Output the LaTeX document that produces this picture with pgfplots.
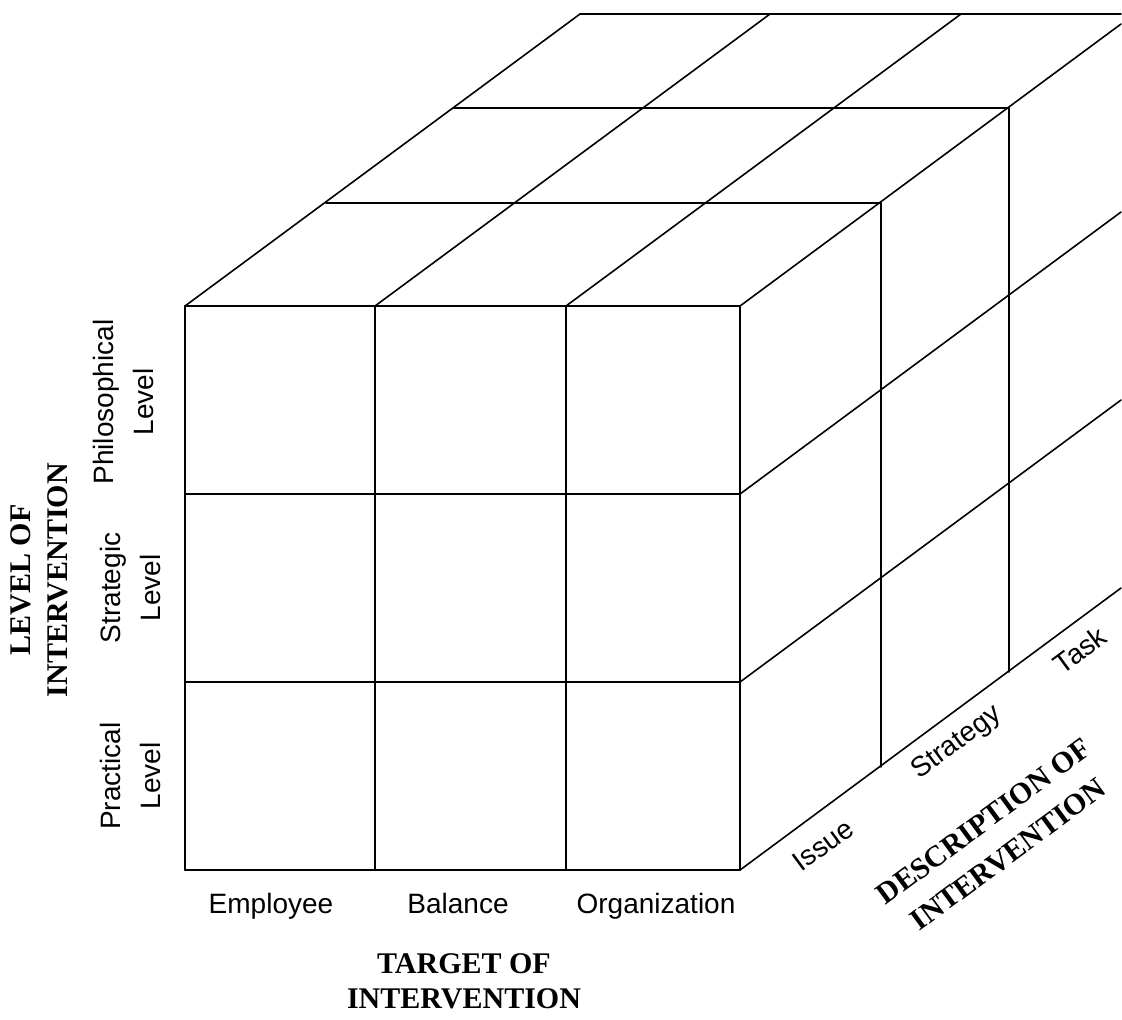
\documentclass[border=0pt]{standalone}
\usepackage{pgfplots}
\pgfplotsset{compat=1.18}
\usepackage{fontspec}
\setmainfont{Liberation Serif}
\setsansfont{Liberation Sans}

% label fonts (1 px of the reference = 0.5pt)
\newcommand{\lab}{\sffamily\fontsize{14}{20}\selectfont}
\newcommand{\ttl}{\rmfamily\bfseries\fontsize{15}{18.5}\selectfont}

\begin{document}
\begin{tikzpicture}
\begin{axis}[
    scale only axis,
    width=561pt, height=509.5pt,
    xmin=0, xmax=1122,
    ymin=0, ymax=1019,
    y dir=reverse,
    hide axis,
    clip=false,
    cube/.style={black, line width=0.8pt, mark=none, line cap=round},
]
% keeps the picture at the full frame
\addplot[draw=none, mark=none] coordinates {(0,0) (1122,1019)};

% front face: verticals
\addplot[cube] coordinates {(185,306) (185,870)};
\addplot[cube] coordinates {(375,306) (375,870)};
\addplot[cube] coordinates {(566,306) (566,870)};
\addplot[cube] coordinates {(740,306) (740,870)};
% front face: horizontals
\addplot[cube] coordinates {(185,306) (740,306)};
\addplot[cube] coordinates {(185,494) (740,494)};
\addplot[cube] coordinates {(185,682) (740,682)};
\addplot[cube] coordinates {(185,870) (740,870)};

% top face: depth lines
\addplot[cube] coordinates {(185,306) (580,14)};
\addplot[cube] coordinates {(375,306) (770,14)};
\addplot[cube] coordinates {(566,306) (961,14)};
\addplot[cube] coordinates {(740,306) (1121,24)};
% top face: horizontals
\addplot[cube] coordinates {(326,203) (881,203)};
\addplot[cube] coordinates {(454,108) (1009,108)};
\addplot[cube] coordinates {(580,14) (1121,14)};

% right face: depth lines
\addplot[cube] coordinates {(740,494) (1121,212)};
\addplot[cube] coordinates {(740,682) (1121,400)};
\addplot[cube] coordinates {(740,870) (1121,588)};
% right face: verticals
\addplot[cube] coordinates {(881,203) (881,767)};
\addplot[cube] coordinates {(1009,108) (1009,672)};

% target labels
\node[anchor=base, inner sep=0, font=\lab] at (axis cs:271,913) {Employee};
\node[anchor=base, inner sep=0, font=\lab] at (axis cs:458,913) {Balance};
\node[anchor=base, inner sep=0, font=\lab] at (axis cs:656,913) {Organization};
\node[anchor=base, inner sep=0, align=center, font=\rmfamily\bfseries\fontsize{15}{17.5}\selectfont]
    at (axis cs:464,1008) {TARGET OF\\INTERVENTION};

% level labels (base anchor = baseline of the last line)
\node[anchor=base, inner sep=0, align=center, rotate=90, font=\lab]
    at (axis cs:153,402) {Philosophical\\Level};
\node[anchor=base, inner sep=0, align=center, rotate=90, font=\lab]
    at (axis cs:160,588) {Strategic\\Level};
\node[anchor=base, inner sep=0, align=center, rotate=90, font=\lab]
    at (axis cs:160,776) {Practical\\Level};
\node[anchor=base, inner sep=0, align=center, rotate=90, font=\ttl]
    at (axis cs:67,580) {LEVEL OF\\INTERVENTION};

% description labels
\node[inner sep=0, rotate=36.4, font=\lab] at (axis cs:823,845) {Issue};
\node[inner sep=0, rotate=36.4, font=\lab] at (axis cs:957,743) {Strategy};
\node[inner sep=0, rotate=36.4, font=\lab] at (axis cs:1080,650) {Task};
\node[inner sep=0, rotate=36.4, align=center, font=\rmfamily\bfseries\fontsize{15}{20.5}\selectfont]
    at (axis cs:996,838) {DESCRIPTION OF\\INTERVENTION};
\end{axis}
\end{tikzpicture}
\end{document}
